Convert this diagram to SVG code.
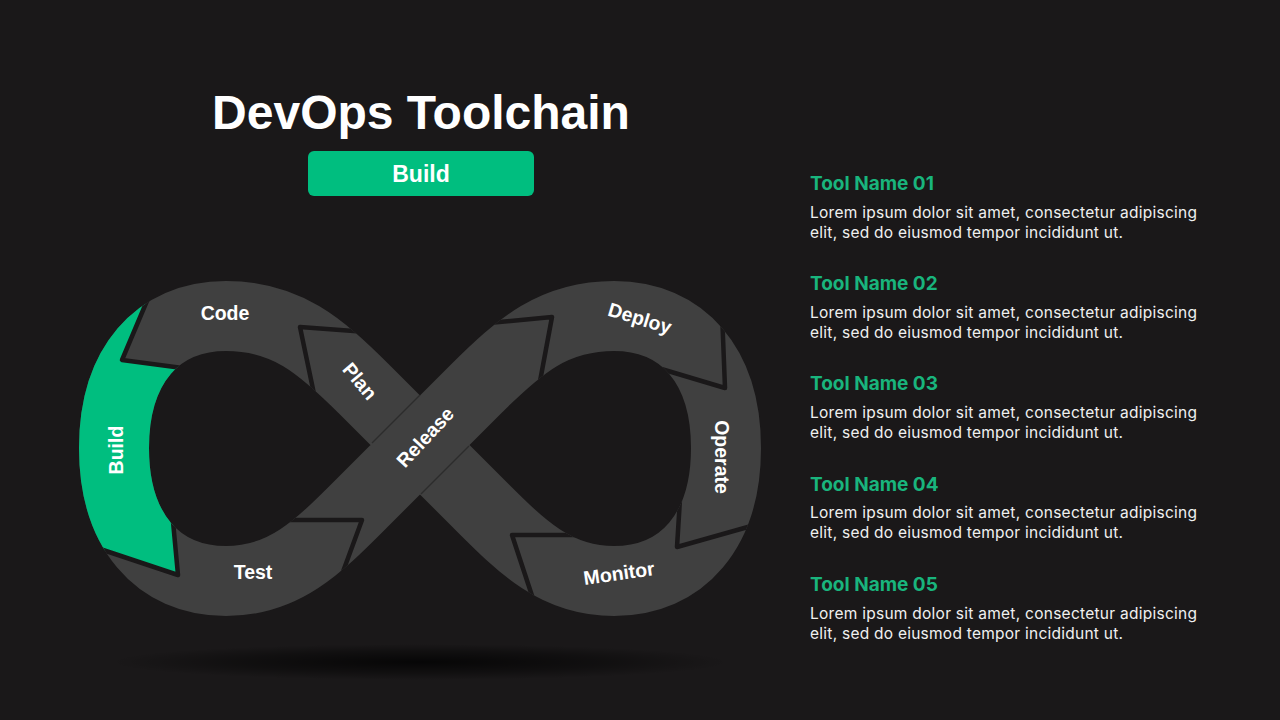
<svg xmlns="http://www.w3.org/2000/svg" width="1280" height="720" viewBox="0 0 1280 720">
  <defs>
    <style>
      .lbl { font-family: "Liberation Sans", Arial, sans-serif; font-weight: 700; font-size: 19.5px; fill: #ffffff; text-anchor: middle; dominant-baseline: central; }
      .head { font-family: Inter, "Noto Sans", sans-serif; font-weight: 700; font-size: 19px; fill: #19b57d; }
      .body { font-family: Inter, "Noto Sans", sans-serif; font-weight: 400; font-size: 15.5px; fill: #f0f0f0; }
      .sep { fill: none; stroke: #1a1819; stroke-width: 4.5; stroke-linejoin: round; stroke-linecap: round; }
      .edge { fill: none; stroke: #2c2c2c; stroke-width: 1.5; }
    </style>
    <path id="infinity" d="M 365 390 C 320 345 286 316 226 316 C 157 316 114 366 114 448 C 114 530 157 581 226 581 C 286 581 320 545 365 500 L 475 390 C 520 345 554 316 614 316 C 683 316 726 366 726 448 C 726 530 683 581 614 581 C 554 581 520 545 475 500 Z"/>
    <mask id="bandMask" maskUnits="userSpaceOnUse" x="0" y="0" width="1280" height="720">
      <use href="#infinity" fill="none" stroke="#ffffff" stroke-width="70"/>
    </mask>
    <radialGradient id="shadowGrad" cx="0.5" cy="0.5" r="0.5">
      <stop offset="0" stop-color="#000000" stop-opacity="0.75"/>
      <stop offset="0.6" stop-color="#000000" stop-opacity="0.35"/>
      <stop offset="1" stop-color="#000000" stop-opacity="0"/>
    </radialGradient>
  </defs>

  <rect x="0" y="0" width="1280" height="720" fill="#1a1819"/>

  <!-- floor shadow -->
  <ellipse cx="420" cy="662" rx="310" ry="18" fill="url(#shadowGrad)"/>

  <!-- title -->
  <g id="title">
    <text x="421" y="129" font-family="Liberation Sans, Arial, sans-serif" font-weight="700" font-size="48" fill="#ffffff" text-anchor="middle">DevOps Toolchain</text>
  </g>
  <g id="active-stage">
    <rect x="308" y="151" width="226" height="45" rx="6" fill="#00be7f"/>
    <text x="421" y="182" font-family="Liberation Sans, Arial, sans-serif" font-weight="700" font-size="23" fill="#ffffff" text-anchor="middle">Build</text>
  </g>

  <!-- infinity band -->
  <g id="band">
    <use href="#infinity" fill="none" stroke="#404040" stroke-width="70" stroke-linejoin="round"/>
  </g>

  <!-- Build segment highlight -->
  <g id="node-build-fill">
    <polygon points="152,289 122,360 190,369 195,500 171,500 178,575 100,549 40,549 40,289" fill="#00be7f" mask="url(#bandMask)"/>
  </g>

  <!-- arrow separators and crossing edges -->
  <g id="connectors" mask="url(#bandMask)">
    <polyline class="sep" points="152,289 122,360 190,369"/>
    <polyline class="sep" points="100,549 178,575 171,500"/>
    <polyline class="sep" points="285,520 362,520 330,607"/>
    <polyline class="sep" points="478,324 552,317 538,392"/>
    <polyline class="sep" points="722,312 725,388 658,368"/>
    <polyline class="sep" points="681,483 677,547 762,523"/>
    <polyline class="sep" points="582,535 512,535 540,620"/>
    <polyline class="sep" points="367,332 300,327 314,394"/>
    <line class="edge" x1="372" y1="443" x2="420" y2="395"/>
    <line class="edge" x1="421" y1="494" x2="469" y2="446"/>
  </g>

  <!-- stage labels -->
  <g id="node-code"><text class="lbl" x="225" y="313">Code</text></g>
  <g id="node-build"><text class="lbl" x="116" y="450" transform="rotate(-90 116 450)">Build</text></g>
  <g id="node-test"><text class="lbl" x="253" y="572">Test</text></g>
  <g id="node-plan"><text class="lbl" x="360" y="381" transform="rotate(50 360 381)">Plan</text></g>
  <g id="node-release"><text class="lbl" x="425" y="437" transform="rotate(-47 425 437)">Release</text></g>
  <g id="node-deploy"><text class="lbl" x="640" y="318" transform="rotate(17 640 318)">Deploy</text></g>
  <g id="node-operate"><text class="lbl" x="722" y="457" transform="rotate(90 722 457)">Operate</text></g>
  <g id="node-monitor"><text class="lbl" x="619" y="573" transform="rotate(-8 619 573)">Monitor</text></g>

  <!-- tool list -->
  <g id="tool-01">
    <text class="head" x="810" y="190">Tool Name 01</text>
    <text class="body" x="810" y="218" textLength="387">Lorem ipsum dolor sit amet, consectetur adipiscing</text>
    <text class="body" x="810" y="238" textLength="313">elit, sed do eiusmod tempor incididunt ut.</text>
  </g>
  <g id="tool-02">
    <text class="head" x="810" y="290">Tool Name 02</text>
    <text class="body" x="810" y="318" textLength="387">Lorem ipsum dolor sit amet, consectetur adipiscing</text>
    <text class="body" x="810" y="338" textLength="313">elit, sed do eiusmod tempor incididunt ut.</text>
  </g>
  <g id="tool-03">
    <text class="head" x="810" y="390">Tool Name 03</text>
    <text class="body" x="810" y="418" textLength="387">Lorem ipsum dolor sit amet, consectetur adipiscing</text>
    <text class="body" x="810" y="438" textLength="313">elit, sed do eiusmod tempor incididunt ut.</text>
  </g>
  <g id="tool-04">
    <text class="head" x="810" y="491">Tool Name 04</text>
    <text class="body" x="810" y="518" textLength="387">Lorem ipsum dolor sit amet, consectetur adipiscing</text>
    <text class="body" x="810" y="538" textLength="313">elit, sed do eiusmod tempor incididunt ut.</text>
  </g>
  <g id="tool-05">
    <text class="head" x="810" y="591">Tool Name 05</text>
    <text class="body" x="810" y="619" textLength="387">Lorem ipsum dolor sit amet, consectetur adipiscing</text>
    <text class="body" x="810" y="639" textLength="313">elit, sed do eiusmod tempor incididunt ut.</text>
  </g>
</svg>
